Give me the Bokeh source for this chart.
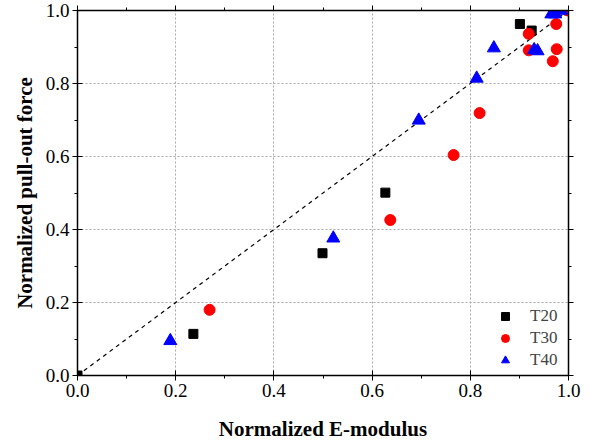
from bokeh.plotting import figure
from bokeh.models import LinearAxis, Range1d, FixedTicker, Legend, LegendItem, NumeralTickFormatter
from bokeh.embed import file_html
from bokeh.resources import INLINE

# Data
t20_x = [0.0, 0.236, 0.499, 0.627, 0.901, 0.925, 1.0]
t20_y = [0.0, 0.114, 0.335, 0.501, 0.963, 0.945, 1.0]
t30_x = [0.269, 0.637, 0.766, 0.819, 0.919, 0.919, 0.975, 0.976, 0.968, 1.0]
t30_y = [0.180, 0.426, 0.604, 0.719, 0.936, 0.891, 0.963, 0.894, 0.861, 1.0]
t40_x = [0.189, 0.521, 0.695, 0.813, 0.848, 0.930, 0.937, 0.965, 0.973, 0.985]
t40_y = [0.095, 0.376, 0.699, 0.814, 0.897, 0.892, 0.889, 0.990, 0.990, 1.0]
ref_x = [0.0, 1.0]
ref_y = [0.0, 1.0]
major_ticks = [0.0, 0.2, 0.4, 0.6, 0.8, 1.0]
minor_ticks = [0.1, 0.3, 0.5, 0.7, 0.9]

FONT = "Liberation Serif"

p = figure(width=588, height=443, output_backend="svg", toolbar_location=None,
           x_range=Range1d(0, 1), y_range=Range1d(0, 1),
           min_border_left=77, min_border_right=20, min_border_top=10, min_border_bottom=67)
p.outline_line_color = None

p.line(ref_x, ref_y, line_color="black", line_dash="4 4", line_width=1.2)

r20 = p.scatter(t20_x, t20_y, marker="square", size=9, fill_color="black", line_color="black")
r30 = p.scatter(t30_x, t30_y, marker="circle", size=11, fill_color="red", line_color="red")
r40 = p.scatter(t40_x, t40_y, marker="triangle", size=13, fill_color="blue", line_color="blue")

ticker = FixedTicker(ticks=major_ticks, minor_ticks=minor_ticks)

for ax in [p.xaxis[0], p.yaxis[0]]:
    ax.ticker = ticker
    ax.formatter = NumeralTickFormatter(format="0.0")
    ax.major_label_text_font = FONT
    ax.major_label_text_font_size = "19px"
    ax.major_label_text_color = "black"
    ax.axis_label_text_font = FONT
    ax.axis_label_text_font_size = "21px"
    ax.axis_label_text_font_style = "bold"
    ax.axis_label_text_color = "black"
    ax.axis_line_width = 1.5
    ax.axis_line_color = "black"
    ax.major_tick_line_color = "black"
    ax.minor_tick_line_color = "black"
    ax.major_tick_in = 5
    ax.major_tick_out = 5
    ax.minor_tick_in = 0
    ax.minor_tick_out = 3
    ax.major_label_standoff = 3

p.xaxis[0].axis_label = "Normalized E-modulus"
p.yaxis[0].axis_label = "Normalized pull-out force"
p.xaxis[0].axis_label_standoff = 17
p.yaxis[0].axis_label_standoff = 6

for loc in ["above", "right"]:
    ax = LinearAxis(ticker=ticker)
    ax.major_label_text_font_size = "1px"
    ax.major_label_text_color = None
    ax.major_label_standoff = 0
    ax.axis_line_width = 1.5
    ax.axis_line_color = "black"
    ax.major_tick_in = 0
    ax.major_tick_out = 5
    ax.minor_tick_in = 0
    ax.minor_tick_out = 3
    p.add_layout(ax, loc)

for g in [p.xgrid[0], p.ygrid[0]]:
    g.ticker = ticker
    g.grid_line_color = "#a8a8a8"
    g.grid_line_dash = "2 2"
    g.grid_line_width = 1

legend = Legend(items=[LegendItem(label="T20", renderers=[r20]),
                       LegendItem(label="T30", renderers=[r30]),
                       LegendItem(label="T40", renderers=[r40])],
                location="bottom_right")
legend.border_line_color = None
legend.background_fill_alpha = 0
legend.label_text_font = FONT
legend.label_text_font_size = "17px"
legend.glyph_width = 20
legend.glyph_height = 20
legend.spacing = 2
legend.label_standoff = 15
legend.label_width = 33
legend.padding = 0
legend.margin = 5
p.add_layout(legend)

open("out.html", "w").write(file_html(p, INLINE))
